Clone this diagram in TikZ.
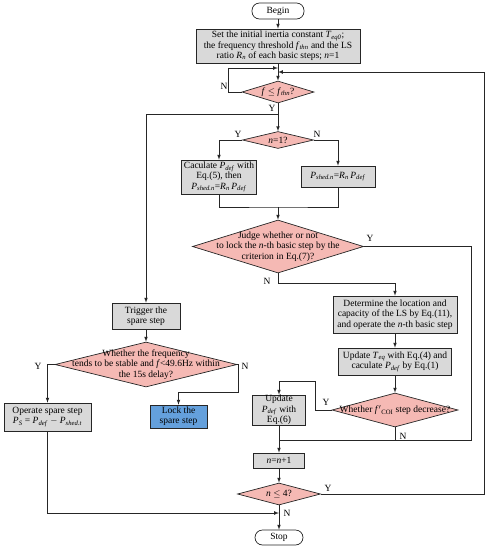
\documentclass[tikz,border=0pt]{standalone}
\usepackage{fontspec}
\setmainfont{Liberation Serif}
\usepackage{amsmath}
\usetikzlibrary{arrows,calc,positioning,shapes.geometric}
\definecolor{boxgray}{RGB}{217,217,217}
\definecolor{decpink}{RGB}{245,185,180}
\definecolor{lockblue}{RGB}{100,160,220}
\newcommand{\vv}[2]{\textit{#1}\textsubscript{\textit{#2}}}

\begin{document}
\begin{tikzpicture}[x=1pt,y=-1pt,
		font=\fontsize{9.5}{10.3}\selectfont,
		line/.style={draw=black!85,line width=0.7pt},
		arr/.style={line,-latex},
		proc/.style={draw=black!85,line width=0.7pt,fill=boxgray,align=center,inner sep=0pt},
		dec/.style={draw=black!85,line width=0.7pt,fill=decpink,diamond,inner sep=0pt},
		term/.style={draw=black!85,line width=0.7pt,rounded corners=7.5pt,align=center,inner sep=0pt}]
		\useasboundingbox (0,0) rectangle (486,550);
		\node[term,minimum width=52pt,minimum height=16pt] (begin) at (278,11) {Begin};
		\node[proc,minimum width=164pt,minimum height=34pt] (init) at (278,46) {Set the initial inertia constant \vv{T}{eq0};\\ the frequency threshold \vv{f}{thn} and the LS\\ ratio \vv{R}{n} of each basic steps; \textit{n}=1};
		\node[dec,minimum width=72pt,minimum height=22pt] (df) at (278,92) {};
		\node (dft) at (df) {\textit{f} $\le$ \vv{f}{thn}?};
		\node[dec,minimum width=71pt,minimum height=17pt] (dn1) at (278,140) {};
		\node (dn1t) at (dn1) {\textit{n}=1?};
		\node[proc,minimum width=75pt,minimum height=34pt] (calc) at (219,177) {Caculate \vv{P}{def} with\\ Eq.(5), then\\ \vv{P}{shed.n}=\vv{R}{n}\,\vv{P}{def}};
		\node[proc,minimum width=74pt,minimum height=21pt] (shed) at (338,176.5) {\vv{P}{shed.n}=\vv{R}{n}\,\vv{P}{def}};
		\node[dec,minimum width=171pt,minimum height=53pt] (judge) at (278,246.5) {};
		\node[align=center] (judget) at (judge) {Judge whether or not\\ to lock the \textit{n}-th basic step by the\\ criterion in Eq.(7)?};
		\node[proc,minimum width=124pt,minimum height=37pt] (det) at (395,314.5) {Determine the location and\\ capacity of the LS by Eq.(11),\\ and operate the \textit{n}-th basic step};
		\node[proc,minimum width=113pt,minimum height=27pt] (upd) at (395,361.5) {Update \vv{T}{eq} with Eq.(4) and\\ caculate \vv{P}{def} by Eq.(1)};
		\node[dec,minimum width=126pt,minimum height=34pt] (dcoi) at (395,410) {};
		\node (dcoit) at (dcoi) {Whether \textit{f}$'$\textsubscript{COI} step decrease?};
		\node[proc,minimum width=53pt,minimum height=30pt] (updp) at (279,410) {Update\\ \vv{P}{def} with\\ Eq.(6)};
		\node[proc,minimum width=51pt,minimum height=15pt] (nn) at (279,460.5) {\textit{n}=\textit{n}+1};
		\node[dec,minimum width=83pt,minimum height=22pt] (dn4) at (279,494) {};
		\node (dn4t) at (dn4) {\textit{n} $\le$ 4?};
		\node[term,minimum width=48pt,minimum height=15pt] (stop) at (279,537.5) {Stop};
		\node[proc,minimum width=68pt,minimum height=26pt] (trig) at (146,316) {Trigger the\\ spare step};
		\node[dec,minimum width=182pt,minimum height=45pt] (dsp) at (146,364.5) {};
		\node[align=center] (dspt) at (dsp) {Whether the frequency\\ tends to be stable and \textit{f}<49.6Hz within\\ the 15s delay?};
		\node[proc,minimum width=87pt,minimum height=28pt] (oper) at (47.5,417) {Operate spare step\\ \vv{P}{S} = \vv{P}{def} $-$ \vv{P}{shed.t}};
		\node[proc,fill=lockblue,minimum width=57pt,minimum height=23pt] (lock) at (178.5,416.5) {Lock the\\ spare step};
		\coordinate (jl) at (278,68);
		\coordinate (jr) at (278,72);
		\coordinate (jy) at (278,114);
		\coordinate (jm) at (278,207);
		\coordinate (jn) at (279,440);
		\coordinate (js) at (279,513);
		\draw[arr] (begin) -- (init);
		\draw[arr] (init) -- (df);
		\draw[arr] (df.west) -- ++(-13,0) |- (jl);
		\draw[arr] (dn4.east) -- ++(163,0) |- (jr);
		\draw[arr] (df.south) -- (dn1.north);
		\draw[arr] (jy) -| (trig.north);
		\draw[arr] (dn1.west) -| (calc.north);
		\draw[arr] (dn1.east) -| (shed.north);
		\draw[line] (calc.south) |- (jm) -| (shed.south);
		\draw[arr] (jm) -- (judge.north);
		\draw[arr] (judge.south) -- ++(0,10) -| (det.north);
		\draw[arr] (det) -- (upd);
		\draw[arr] (upd) -- (dcoi);
		\draw[arr] (dcoi.west) -- ++(-16,0) -- ++(0,-29) -| (updp.north);
		\draw[line] (judge.east) -- ++(107,0) |- (jn);
		\draw[line] (dcoi.south) -- (dcoi.south |- jn);
		\draw[line] (updp.south) -- (jn);
		\draw[arr] (jn) -- (nn.north);
		\draw[arr] (nn) -- (dn4);
		\draw[arr] (dn4) -- (stop);
		\draw[arr] (oper.south) |- (js);
		\draw[arr] (trig) -- (dsp);
		\draw[arr] (dsp.west) -| (oper.north);
		\draw[arr] (dsp.east) -- ++(1,0) -- ++(0,27.5) -| (lock.north);
		\node (lN1) at (224,86) {N};
		\node (lY1) at (272,108) {Y};
		\node (lY2) at (238,134) {Y};
		\node (lN2) at (317,134) {N};
		\node (lY3) at (370,238) {Y};
		\node (lN3) at (267,281) {N};
		\node (lY4) at (38,366) {Y};
		\node (lN4) at (245,366) {N};
		\node (lY5) at (326,402) {Y};
		\node (lN5) at (403,436) {N};
		\node (lY6) at (328,488) {Y};
		\node (lN6) at (287,513) {N};
\end{tikzpicture}
\end{document}
